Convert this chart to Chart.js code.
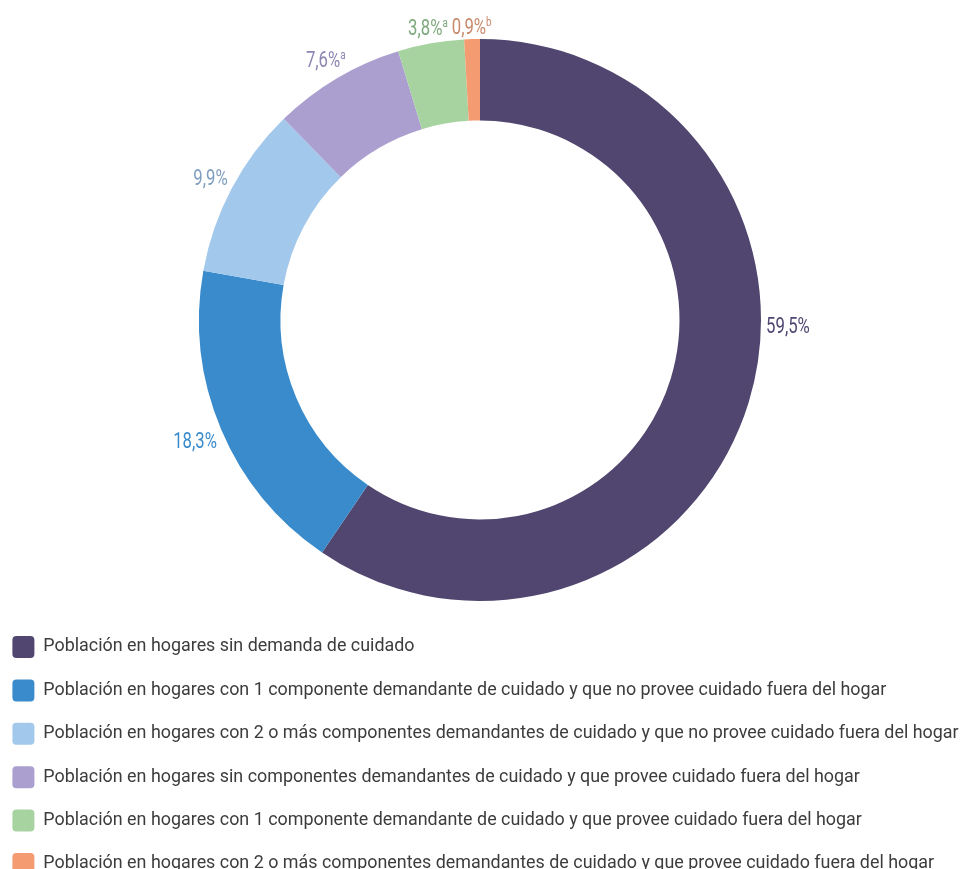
<!DOCTYPE html>
<html>
<head>
<meta charset="utf-8">
<script src="https://cdn.jsdelivr.net/npm/chart.js@4/dist/chart.umd.min.js"></script>
<style>
  body { margin: 0; background: #fff; }
  #wrap { width: 960px; height: 869px; overflow: hidden; }
</style>
</head>
<body>
<div id="wrap"><canvas id="donut" width="960" height="885"></canvas></div>
<script>
const categories = [
  "Población en hogares sin demanda de cuidado",
  "Población en hogares con 1 componente demandante de cuidado y que no provee cuidado fuera del hogar",
  "Población en hogares con 2 o más componentes demandantes de cuidado y que no provee cuidado fuera del hogar",
  "Población en hogares sin componentes demandantes de cuidado y que provee cuidado fuera del hogar",
  "Población en hogares con 1 componente demandante de cuidado y que provee cuidado fuera del hogar",
  "Población en hogares con 2 o más componentes demandantes de cuidado y que provee cuidado fuera del hogar",
];
const shares = [59.5, 18.3, 9.9, 7.6, 3.8, 0.9];
const notes = ["", "", "", "a", "a", "b"];

const fillColors = ["#50466f", "#3a8bcc", "#a2c8ec", "#ab9fd0", "#a7d3a0", "#f49b72"];
const labelColors = ["#4f4570", "#3a8bcc", "#7e9dbf", "#8c86b2", "#7ea87c", "#c8896a"];

// no condensed face installed, so squeeze Roboto horizontally
const squeeze = 0.76;

// percentage labels outside the ring
const outsideLabels = {
  id: "outsideLabels",
  afterDatasetsDraw(chart, args, opts) {
    const ctx = chart.ctx;
    const arcs = chart.getDatasetMeta(0).data;
    arcs.forEach((arc, i) => {
      const p = arc.getProps(["x", "y", "startAngle", "endAngle", "outerRadius"], true);
      let ang = (p.startAngle + p.endAngle) / 2;
      if (opts.angleOverride[i] !== undefined) ang = opts.angleOverride[i] * Math.PI / 180;
      const main = shares[i].toFixed(1).replace(".", ",") + "%";
      ctx.font = "22px Roboto";
      const w1 = ctx.measureText(main).width * squeeze;
      ctx.font = "13px Roboto";
      const w2 = notes[i] ? ctx.measureText(notes[i]).width * squeeze : 0;
      const W = w1 + w2, H = 16;
      const c = Math.cos(ang), s = Math.sin(ang);
      const r = p.outerRadius + opts.gap + (W / 2) * Math.abs(c) + (H / 2) * Math.abs(s);
      const cx = p.x + r * c, cy = p.y + r * s;
      ctx.save();
      ctx.translate(cx - W / 2, cy + 8);
      ctx.scale(squeeze, 1);
      ctx.fillStyle = labelColors[i];
      ctx.textBaseline = "alphabetic";
      ctx.textAlign = "left";
      ctx.font = "22px Roboto";
      ctx.fillText(main, 0, 0);
      if (notes[i]) {
        ctx.font = "13px Roboto";
        ctx.fillText(notes[i], w1 / squeeze, -8);
      }
      ctx.restore();
    });
  }
};

new Chart(document.getElementById("donut"), {
  type: "doughnut",
  data: {
    labels: categories,
    datasets: [{
      data: shares,
      backgroundColor: fillColors,
      borderWidth: 0,
      hoverOffset: 0,
    }],
  },
  options: {
    responsive: false,
    animation: false,
    radius: 281,
    cutout: "71%",
    layout: { padding: { top: 25.4, left: -9, right: -9 } },
    plugins: {
      tooltip: { enabled: false },
      legend: {
        position: "bottom",
        align: "start",
        labels: {
          boxWidth: 22,
          boxHeight: 22,
          useBorderRadius: true,
          borderRadius: 4,
          padding: 21.4,
          color: "#3c3c3c",
          font: { family: "Roboto, sans-serif", size: 17.9 },
        },
      },
      outsideLabels: { gap: 5, angleOverride: { 0: 1 } },
    },
  },
  plugins: [outsideLabels],
});
</script>
</body>
</html>
